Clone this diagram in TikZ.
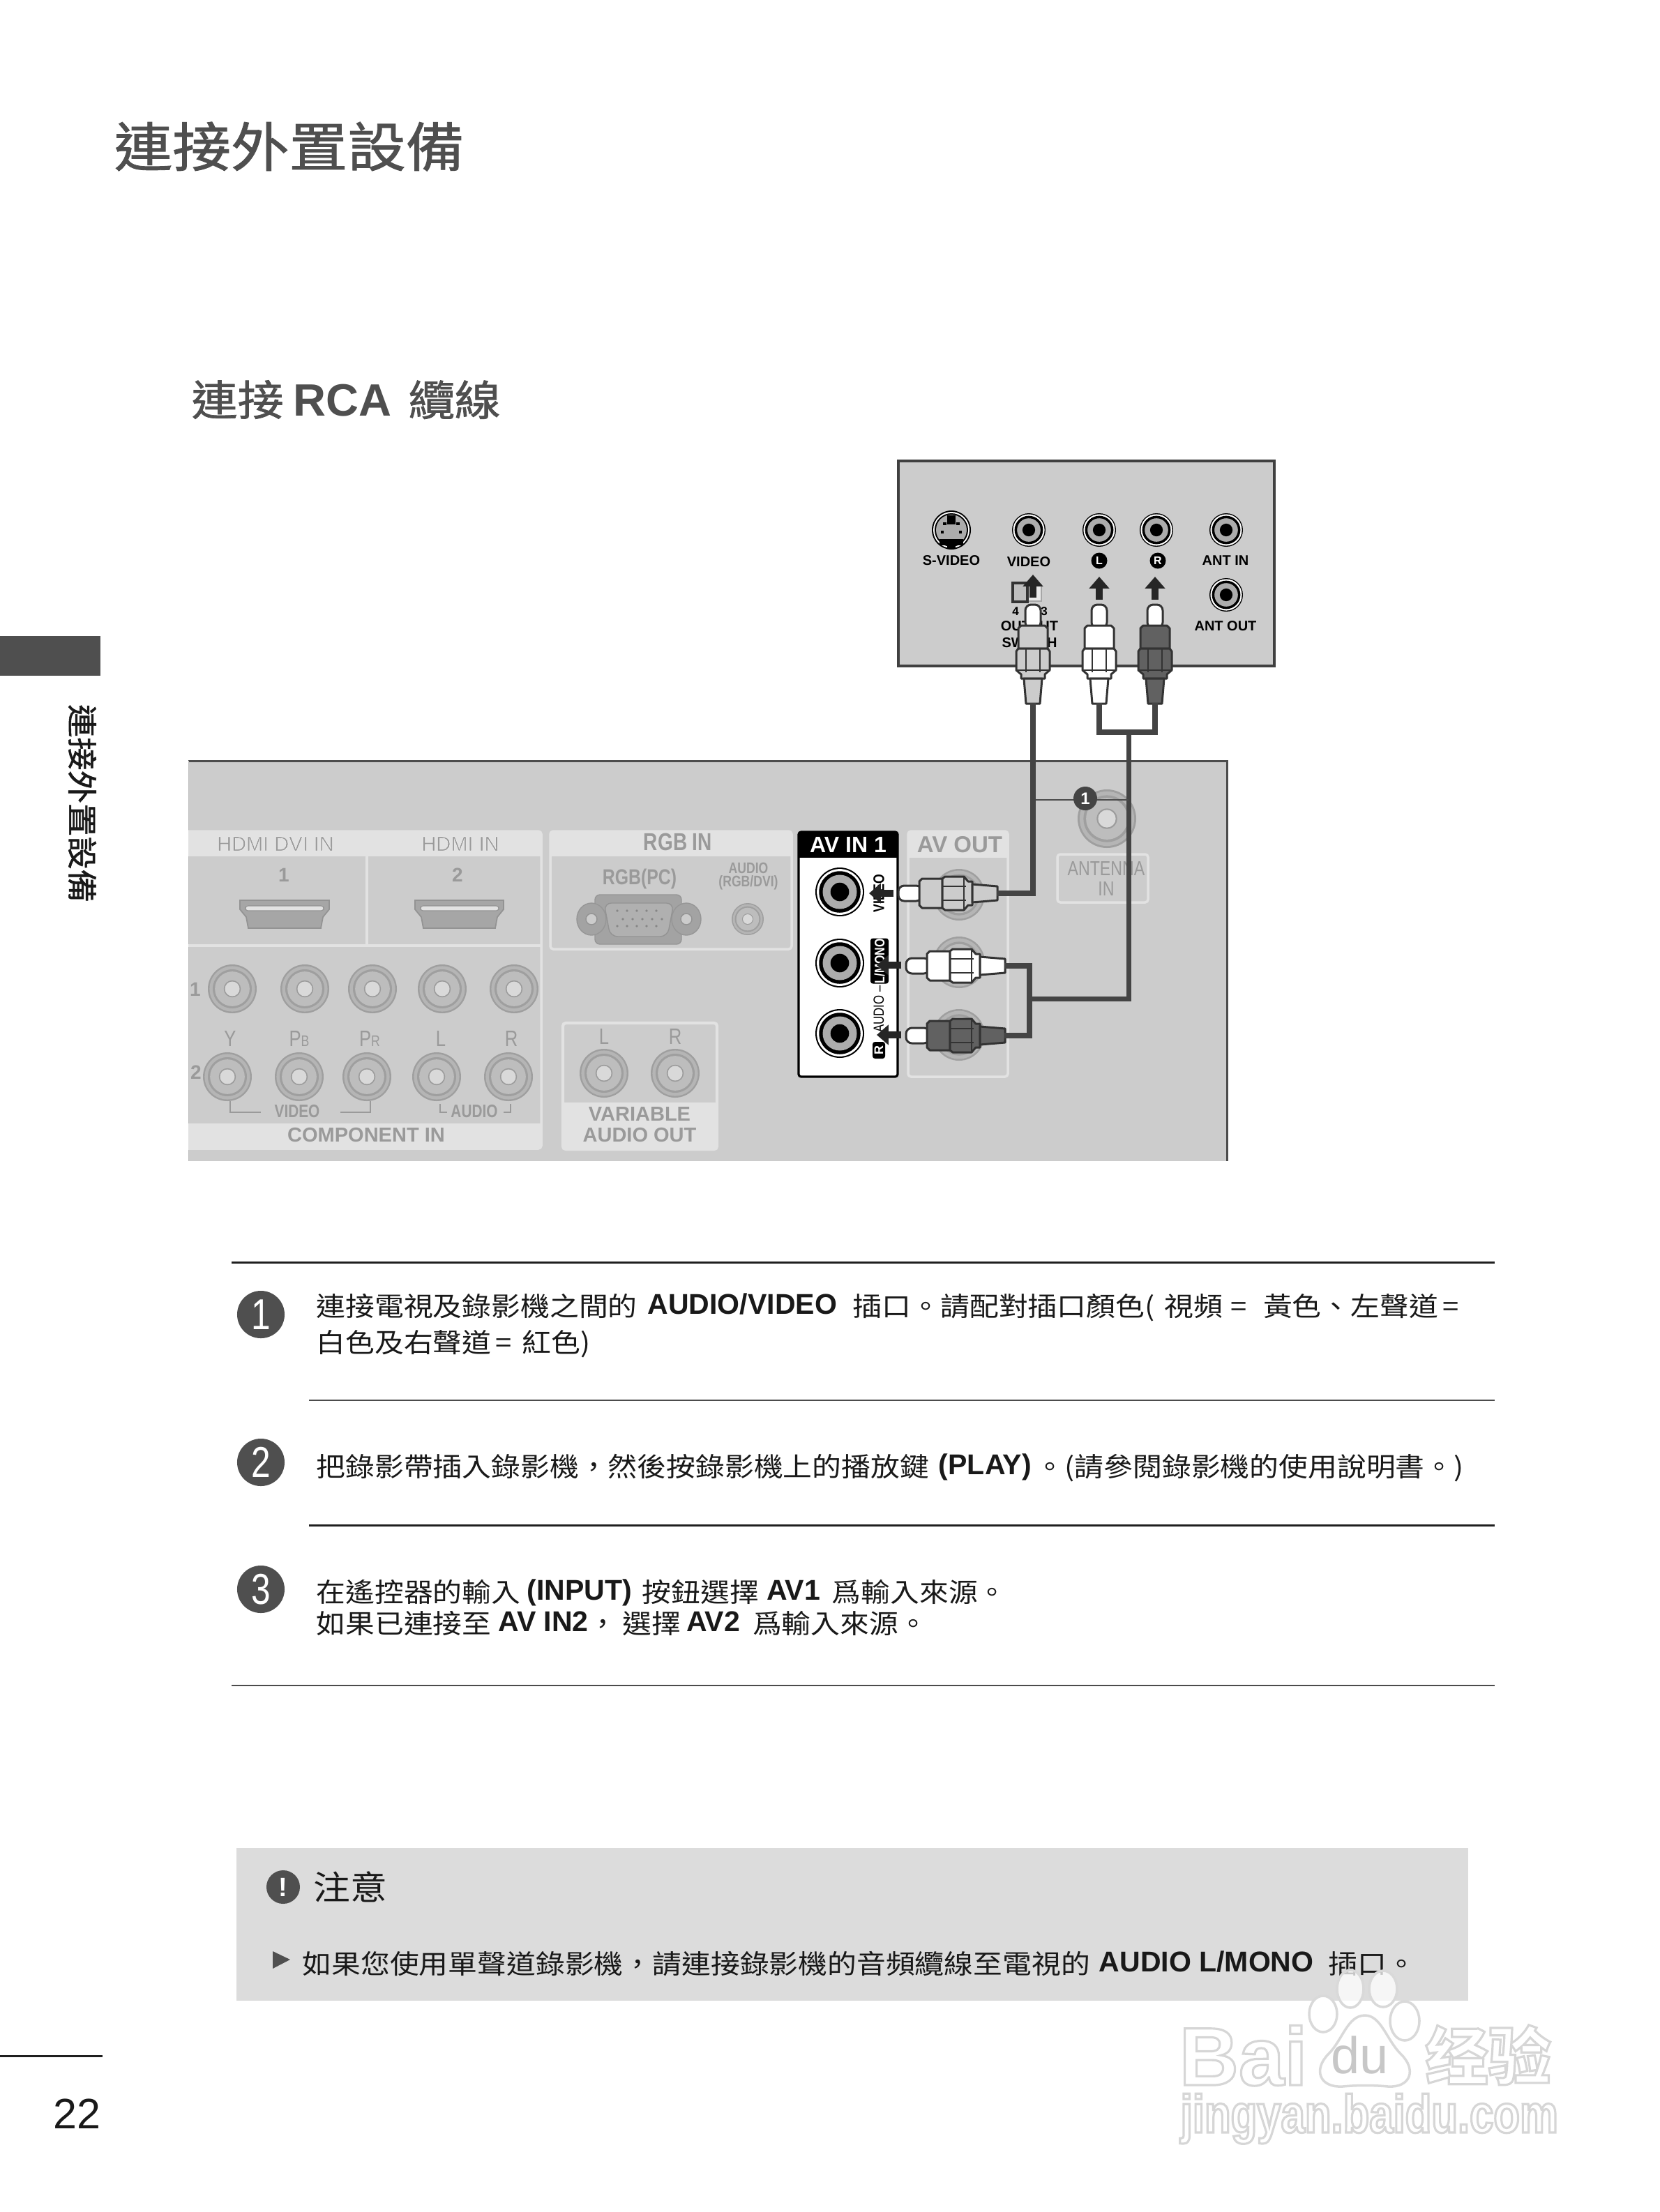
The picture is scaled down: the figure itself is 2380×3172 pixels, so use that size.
\documentclass[tikz,border=0pt]{standalone}
\usepackage{fontspec}
\usepackage{xcolor}
\usetikzlibrary{arrows.meta, positioning}

\setmainfont{Liberation Sans}
\newfontfamily\cjk[FakeStretch=1.1]{Noto Sans CJK TC}
\newfontfamily\cjktitle[FakeStretch=1.1,FakeBold=1.2]{Noto Sans CJK TC}
\newfontfamily\cjkmark{Noto Sans CJK SC}
\newfontfamily\narrowsf[FakeStretch=0.8]{Liberation Sans}

\definecolor{inkgray}{HTML}{4F4F4F}
\definecolor{panelgray}{HTML}{CCCCCC}
\definecolor{striplight}{HTML}{E2E2E2}
\definecolor{dimtext}{HTML}{9A9A9A}
\definecolor{cablegray}{HTML}{444444}
\definecolor{notegray}{HTML}{DCDCDC}

\newcommand\pxfont[1]{\fontsize{\dimexpr 0.2845pt*#1\relax}{\dimexpr 0.2845pt*#1*12/10\relax}\selectfont}
\newcommand\hs[1]{\hspace*{\dimexpr 0.2845pt*#1\relax}}
\newcommand\ab[1]{\raisebox{0.8pt}{\normalfont\bfseries\pxfont{41}#1}}
\newcommand\halotxt[1]{\special{pdf:code q 2 Tr 0.1 w 1 G}#1\special{pdf:code Q}}
\newcommand\marktxt[1]{\special{pdf:code q 2 Tr 0.9 w 0.84 G}#1\special{pdf:code Q}}

\newcommand\bwjack[4]{
  \coordinate (#1) at (#2,#3);
  \fill[black] (#1) circle (#4);
  \fill[white] (#1) circle ({0.94*#4});
  \fill[black] (#1) circle ({0.85*#4});
  \fill[gray!65] (#1) circle ({0.7*#4});
  \fill[black] (#1) circle ({0.38*#4});
}
\newcommand\ghostjack[4]{
  \coordinate (#1) at (#2,#3);
  \fill[gray!75!white] (#1) circle (#4);
  \fill[gray!58!white] (#1) circle ({0.93*#4});
  \fill[gray!75!white] (#1) circle ({0.8*#4});
  \fill[gray!52!white] (#1) circle ({0.71*#4});
  \fill[gray!78!white] (#1) circle ({0.35*#4});
  \fill[gray!30!white] (#1) circle ({0.3*#4});
}
\newcommand\rcaplug[5]{
  \begin{scope}[shift={(#2,#3)},rotate=#4,plugline]
    \filldraw[fill=white,rounded corners=2.4pt] (-11,34) -- (-11,0) -- (11,0) -- (11,34) -- cycle;
    \filldraw[fill=#5] (-17,30) -- (17,30) -- (21,34) -- (21,63) -- (-21,63) -- (-21,34) -- cycle;
    \filldraw[fill=#5] (-21,63) -- (21,63) -- (24,67) -- (24,94) -- (17,100) -- (17,106) -- (-17,106) -- (-17,100) -- (-24,94) -- (-24,67) -- cycle;
    \draw[line width=0.5pt] (-24,94) -- (24,94) (-10,63) -- (-10,97) (10,63) -- (10,97);
    \filldraw[fill=#5] (-13,106) -- (13,106) -- (10,142) -- (-10,142) -- cycle;
    \coordinate (#1) at (0,141);
  \end{scope}
}

\begin{document}
\begin{tikzpicture}[
  x=0.01cm, y=-0.01cm,
  plugline/.style={draw=black!80, line width=0.85pt, line join=round},
  headline/.style={inner sep=0, anchor=base west, text=inkgray},
  txt/.style={font=\cjk\pxfont{38}, inner sep=0, anchor=base west, text=black!90},
  numbadge/.style={circle, fill=inkgray, text=white, inner sep=0, minimum size=0.68cm, font=\narrowsf\pxfont{62}},
  tvlabel/.style={inner sep=0, font=\bfseries\pxfont{20}, text=black},
  portbadge/.style={circle, fill=black, text=white, inner sep=0, minimum size=0.23cm, font=\bfseries\pxfont{16}},
  dimbold/.style={inner sep=0, font=\bfseries\pxfont{#1}, text=dimtext},
  dimnarrow/.style={inner sep=0, font=\narrowsf\bfseries\pxfont{#1}, text=dimtext},
  dimthin/.style={inner sep=0, font=\narrowsf\pxfont{#1}, text=dimtext},
  dimplain/.style={inner sep=0, font=\pxfont{#1}, text=dimtext},
  strip/.style={fill=striplight, draw=none},
  frame/.style={draw=striplight, line width=1pt, rounded corners=1.2pt},
  cable/.style={draw=cablegray, line width=2.5pt, line join=miter},
  feedcable/.style={draw=cablegray, line width=2pt},
  bigarr/.style={-{Triangle[length=4.8pt,width=8pt]}, line width=2.8pt, draw=black!85},
  thinrule/.style={draw=black!70, line width=0.55pt},
  boldrule/.style={draw=black!88, line width=0.85pt},
  bracket/.style={draw=dimtext, line width=0.5pt}
]
  \useasboundingbox (0,0) rectangle (2380,3172);

  \node[headline, font=\cjktitle\pxfont{76}] (title) at (163,239) {連接外置設備};
  \node[headline, font=\cjktitle\pxfont{60}] (subtitle) at (274,596) {連接\hs{14}{\normalfont\bfseries\pxfont{65}RCA}\hs{24}纜線};

  \fill[inkgray] (0,912) rectangle (144,969);
  \node[inner sep=0, rotate=-90, font=\cjktitle\pxfont{43}, text=black!90] (sidelabel) at (118,1152) {連接外置設備};
  \draw[boldrule] (0,2948) -- (147,2948);
  \node[inner sep=0, font=\pxfont{61}, text=black!90, anchor=base east] (pagenum) at (145,3052) {22};

  \filldraw[fill=panelgray, draw=black!75, line width=1.2pt] (1288,661) rectangle (1827,955);

  \fill[black] (1364,760) circle (28);
  \fill[white] (1364,760) circle (26);
  \fill[black] (1364,760) circle (24);
  \fill[gray!65] (1364,760) circle (22);
  \fill[black] (1358,739) rectangle (1370,752);
  \fill[black] (1347,773) rectangle (1381,782);
  \fill[black] (1358,773) rectangle (1370,787);
  \fill[black] (1352,749) rectangle (1357,753);
  \fill[black] (1371,749) rectangle (1376,753);
  \fill[black] (1349,761) rectangle (1353,765);
  \fill[black] (1375,761) rectangle (1379,765);
  \bwjack{jtvideo}{1475}{760}{24}
  \bwjack{jtl}{1576}{760}{24}
  \bwjack{jtr}{1658}{760}{24}
  \bwjack{jantin}{1758}{760}{24}
  \bwjack{jantout}{1758}{853}{24}

  \node[tvlabel] (lsvideo) at (1364,804) {S-VIDEO};
  \node[tvlabel] (lvideo) at (1475,806) {VIDEO};
  \node[portbadge] (bl) at (1576,804) {L};
  \node[portbadge] (br) at (1660,804) {R};
  \node[tvlabel] (lantin) at (1757,804) {ANT IN};
  \node[tvlabel] (lantout) at (1757,898) {ANT OUT};
  \node[tvlabel] (loutput) at (1476,898) {OUTPUT};
  \node[tvlabel] (lswitch) at (1476,922) {SWITCH};
  \node[tvlabel, font=\bfseries\pxfont{17}] (lfour) at (1456,877) {4};
  \node[tvlabel, font=\bfseries\pxfont{17}] (lthree) at (1497,877) {3};

  \filldraw[fill=white!92!black, draw=black!35, line width=0.4pt] (1474,839) rectangle (1493,862);
  \filldraw[fill=gray!50, draw=black!80, line width=0.9pt] (1452,836) rectangle (1473,863);

  \coordinate (avs) at (1481,857);
  \coordinate (ave) at (1481,824);
  \coordinate (als) at (1576,860);
  \coordinate (ale) at (1576,827);
  \coordinate (ars) at (1656,860);
  \coordinate (are) at (1656,827);
  \draw[bigarr] (avs) -- (ave);
  \draw[bigarr] (als) -- (ale);
  \draw[bigarr] (ars) -- (are);

  \fill[panelgray] (270,1091) rectangle (1759,1665);
  \draw[draw=black!70, line width=0.85pt] (270,1091) -- (1759,1091) -- (1759,1665);
  \draw[draw=black!25, line width=0.2pt] (270,1091) -- (270,1665);

  \fill[strip] (270,1192) rectangle (776,1228);
  \fill[strip] (270,1611) rectangle (776,1647);
  \draw[frame] (270,1192) -- (776,1192) -- (776,1647) -- (270,1647);
  \draw[draw=striplight, line width=1pt] (526,1192) -- (526,1356);
  \draw[draw=striplight, line width=1pt] (270,1356) -- (776,1356);

  \node[dimplain=29] (lhdmidvi) at (395,1210) {\halotxt{HDMI DVI IN}};
  \node[dimplain=29] (lhdmi) at (660,1210) {\halotxt{HDMI IN}};
  \node[dimbold=28] (lone) at (407,1255) {1};
  \node[dimbold=28] (ltwo) at (656,1255) {2};

  \filldraw[fill=gray!70!white, draw=gray!85!white, line width=0.5pt] (344,1291) -- (472,1291) -- (472,1304) -- (463,1315) -- (460,1331) -- (356,1331) -- (353,1315) -- (344,1304) -- cycle;
  \filldraw[fill=striplight, draw=gray!85!white, line width=0.3pt, rounded corners=1pt] (352,1299) rectangle (464,1306);
  \filldraw[fill=gray!70!white, draw=gray!85!white, line width=0.5pt] (595,1291) -- (722,1291) -- (722,1304) -- (713,1315) -- (710,1331) -- (607,1331) -- (604,1315) -- (595,1304) -- cycle;
  \filldraw[fill=striplight, draw=gray!85!white, line width=0.3pt, rounded corners=1pt] (603,1299) rectangle (715,1306);

  \ghostjack{ja1}{333}{1418}{35}
  \ghostjack{ja2}{437}{1418}{35}
  \ghostjack{ja3}{534}{1418}{35}
  \ghostjack{ja4}{634}{1418}{35}
  \ghostjack{ja5}{737}{1418}{35}
  \ghostjack{jb1}{326}{1544}{35}
  \ghostjack{jb2}{429}{1544}{35}
  \ghostjack{jb3}{526}{1544}{35}
  \ghostjack{jb4}{626}{1544}{35}
  \ghostjack{jb5}{729}{1544}{35}

  \node[dimbold=28] (rowone) at (280,1419) {1};
  \node[dimbold=28] (rowtwo) at (281,1538) {2};
  \node[dimthin=32] (ly) at (330,1489) {Y};
  \node[dimthin=32] (lpb) at (429,1489) {P{\pxfont{22}B}};
  \node[dimthin=32] (lpr) at (530,1489) {P{\pxfont{22}R}};
  \node[dimthin=32] (ll) at (632,1489) {L};
  \node[dimthin=32] (lr) at (733,1489) {R};
  \node[dimnarrow=26] (lcvideo) at (426,1594) {VIDEO};
  \node[dimnarrow=26] (lcaudio) at (680,1594) {AUDIO};
  \draw[bracket] (330,1579) |- (374,1595);
  \draw[bracket] (531,1579) |- (488,1595);
  \draw[bracket] (631,1583) |- (641,1595);
  \draw[bracket] (732,1583) |- (722,1595);
  \node[dimbold=29] (lcomp) at (525,1627) {COMPONENT IN};

  \fill[strip] (789,1192) rectangle (1135,1228);
  \draw[frame] (789,1192) rectangle (1135,1361);
  \node[dimnarrow=35] (lrgbin) at (972,1207) {RGB IN};
  \node[dimnarrow=31] (lrgbpc) at (917,1260) {RGB(PC)};
  \node[dimnarrow=22] (lrgbaudio) at (1073,1245) {AUDIO};
  \node[dimnarrow=22] (lrgbdvi) at (1073,1266) {(RGB/DVI)};

  \filldraw[fill=gray!72!white, draw=gray!82!white, line width=0.4pt, rounded corners=2pt] (853,1283) -- (977,1283) -- (977,1354) -- (853,1354) -- cycle;
  \filldraw[fill=gray!72!white, draw=gray!82!white, line width=0.4pt] (848,1318) ellipse (21 and 23);
  \filldraw[fill=gray!72!white, draw=gray!82!white, line width=0.4pt] (984,1318) ellipse (21 and 23);
  \filldraw[fill=panelgray, draw=gray!85!white, line width=0.4pt] (848,1318) circle (8);
  \filldraw[fill=panelgray, draw=gray!85!white, line width=0.4pt] (984,1318) circle (8);
  \filldraw[fill=gray!62!white, draw=gray!85!white, line width=0.4pt, rounded corners=3pt] (866,1295) -- (966,1295) -- (957,1343) -- (875,1343) -- cycle;
  \foreach \px in {885,899,913,927,941} {
    \fill[gray!95!white] (\px,1306) circle (1.8);
    \fill[gray!95!white] (\px+8,1318) circle (1.8);
    \fill[gray!95!white] (\px,1328) circle (1.8);
  }
  \ghostjack{jrgbaudio}{1072}{1318}{23}

  \fill[strip] (807,1581) rectangle (1028,1648);
  \draw[frame, line width=1.2pt] (807,1467) rectangle (1028,1648);
  \node[dimthin=32] (lvl) at (866,1486) {L};
  \node[dimthin=32] (lvr) at (968,1486) {R};
  \ghostjack{jvl}{866}{1539}{35}
  \ghostjack{jvr}{968}{1539}{35}
  \node[dimbold=29] (lvar) at (917,1597) {VARIABLE};
  \node[dimbold=29] (lvarout) at (917,1627) {AUDIO OUT};

  \filldraw[fill=white, draw=black, line width=0.9pt, rounded corners=1pt] (1145,1193) rectangle (1287,1544);
  \fill[black] (1145,1193) rectangle (1287,1230);
  \node[inner sep=0, font=\bfseries\pxfont{32}, text=white] (lavin) at (1216,1211) {AV IN 1};
  \bwjack{jvid}{1204}{1279}{35}
  \bwjack{jaul}{1204}{1381}{35}
  \bwjack{jaur}{1204}{1482}{35}
  \node[inner sep=0, rotate=90, font=\narrowsf\bfseries\pxfont{22}, text=black] (lavvideo) at (1260,1281) {VIDEO};
  \node[inner sep=0, rotate=90, fill=black, text=white, rounded corners=1pt, minimum width=0.65cm, minimum height=0.26cm, font=\narrowsf\bfseries\pxfont{20}] (lmono) at (1261,1378) {L/MONO};
  \node[inner sep=0, rotate=90, font=\narrowsf\pxfont{21}, text=black] (lavaudio) at (1260,1447) {AUDIO –};
  \node[inner sep=0, rotate=90, fill=black, text=white, rounded corners=1pt, minimum width=0.24cm, minimum height=0.18cm, font=\bfseries\pxfont{18}] (lavr) at (1260,1506) {R};

  \fill[strip] (1302,1192) rectangle (1445,1230);
  \draw[frame] (1302,1192) rectangle (1445,1544);
  \node[dimbold=33] (lavout) at (1376,1211) {AV OUT};
  \ghostjack{jov}{1375}{1283}{37}
  \ghostjack{jol}{1375}{1380}{37}
  \ghostjack{jor}{1375}{1484}{37}

  \ghostjack{jant}{1587}{1174}{42}
  \draw[frame] (1516,1225) rectangle (1646,1294);
  \node[dimthin=29] (lant) at (1586,1246) {ANTENNA};
  \node[dimthin=29] (lantn) at (1586,1275) {IN};

  \rcaplug{ptv}{1481}{867}{0}{gray!40}
  \rcaplug{ptl}{1576}{867}{0}{white}
  \rcaplug{ptr}{1656}{867}{0}{black!62}
  \rcaplug{phv}{1288}{1281}{90}{panelgray}
  \rcaplug{phl}{1299}{1385}{90}{white}
  \rcaplug{phr}{1299}{1485}{90}{black!62}

  \coordinate (busa) at (1618,1050);
  \coordinate (busb) at (1476,1432);
  \coordinate (leada) at (1485,1147);
  \coordinate (leadb) at (1618,1147);
  \draw[cable] (ptv) |- (phv);
  \draw[cable] (ptl) |- (busa) -| (ptr);
  \draw[feedcable] (busa) |- (busb);
  \draw[cable, line width=2.2pt] (phl) -| (busb) |- (phr);

  \draw[draw=black!70, line width=0.5pt] (leada) -- (leadb);
  \node[circle, fill=cablegray, text=white, inner sep=0, minimum size=0.34cm, font=\bfseries\pxfont{24}] (callout) at (1556,1145) {1};

  \coordinate (ahvs) at (1281,1281);
  \coordinate (ahve) at (1246,1281);
  \coordinate (ahls) at (1292,1384);
  \coordinate (ahle) at (1257,1384);
  \coordinate (ahrs) at (1292,1484);
  \coordinate (ahre) at (1257,1484);
  \draw[bigarr] (ahvs) -- (ahve);
  \draw[bigarr] (ahls) -- (ahle);
  \draw[bigarr] (ahrs) -- (ahre);

  \draw[boldrule] (332,1810) -- (2143,1810);
  \draw[thinrule] (443,2008) -- (2143,2008);
  \draw[boldrule] (443,2187) -- (2143,2187);
  \draw[thinrule] (332,2417) -- (2143,2417);

  \node[numbadge] (stepone) at (374,1885) {1};
  \node[numbadge] (steptwo) at (374,2097) {2};
  \node[numbadge] (stepthree) at (374,2279) {3};

  \node[txt] (linea) at (453,1887) {連接電視及錄影機之間的\hs{15}\ab{AUDIO/VIDEO}\hs{23}插口。請配對插口顏色(\hs{14}視頻\hs{12}=\hs{23}黃色、左聲道\hs{6}=};
  \node[txt] (lineb) at (453,1939) {白色及右聲道\hs{6}=\hs{15}紅色)};
  \node[txt] (linec) at (453,2117) {把錄影帶插入錄影機，然後按錄影機上的播放鍵\hs{14}\ab{(PLAY)}\hs{6}。(請參閱錄影機的使用說明書。)};
  \node[txt] (lined) at (453,2297) {在遙控器的輸入\hs{9}\ab{(INPUT)}\hs{15}按鈕選擇\hs{11}\ab{AV1}\hs{17}爲輸入來源。};
  \node[txt] (linee) at (453,2342) {如果已連接至\hs{10}\ab{AV IN2}，\hs{7}選擇\hs{8}\ab{AV2}\hs{18}爲輸入來源。};

  \fill[notegray] (339,2650) rectangle (2105,2869);
  \node[circle, fill=inkgray, text=white, inner sep=0, minimum size=0.48cm, font=\bfseries\pxfont{38}] (warnicon) at (406,2706) {!};
  \node[txt, font=\cjk\pxfont{48}] (notetitle) at (449,2724) {注意};
  \coordinate (tria) at (391,2798);
  \coordinate (trib) at (391,2823);
  \coordinate (tric) at (416,2810);
  \fill[inkgray] (tria) -- (trib) -- (tric) -- cycle;
  \node[txt] (notetext) at (433,2830) {如果您使用單聲道錄影機，請連接錄影機的音頻纜線至電視的\hs{13}\ab{AUDIO L/MONO}\hs{21}插口。};

  \node[inner sep=0, anchor=base west, text=white, font=\bfseries\pxfont{118}] (markbai) at (1690,2990) {\marktxt{Bai}};
  \filldraw[fill=white, draw=black!15, line width=1pt, fill opacity=0.75] (1936,2852) ellipse (19 and 27);
  \filldraw[fill=white, draw=black!15, line width=1pt, fill opacity=0.75] (1983,2852) ellipse (20 and 26);
  \filldraw[fill=white, draw=black!15, line width=1pt] (1897,2888) ellipse (20 and 26);
  \filldraw[fill=white, draw=black!15, line width=1pt] (2014,2898) ellipse (21 and 28);
  \filldraw[fill=white, draw=black!15, line width=1pt] (1957,2890) .. controls (1932,2890) and (1925,2925) .. (1905,2945) .. controls (1882,2968) and (1892,2994) .. (1925,2992) .. controls (1945,2990) and (1970,2990) .. (1990,2992) .. controls (2022,2994) and (2032,2968) .. (2008,2945) .. controls (1988,2925) and (1980,2890) .. (1957,2890);
  \node[inner sep=0, anchor=base west, text=black!22, font=\pxfont{74}] (markdu) at (1908,2973) {du};
  \node[inner sep=0, anchor=base west, text=white, font=\cjkmark\bfseries\pxfont{90}] (markjy) at (2043,2982) {\marktxt{经验}};
  \node[inner sep=0, anchor=base west, text=white, font=\narrowsf\bfseries\pxfont{77}] (markurl) at (1692,3058) {\marktxt{jingyan.baidu.com}};
\end{tikzpicture}
\end{document}
